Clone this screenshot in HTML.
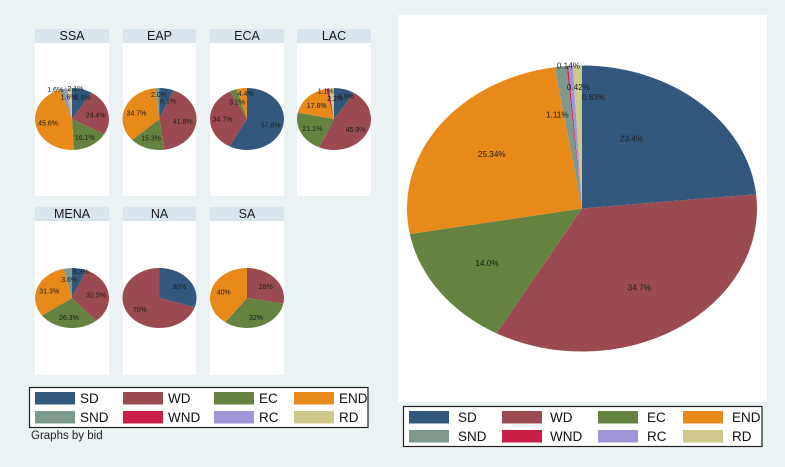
<!DOCTYPE html>
<html>
<head>
<meta charset="utf-8">
<title>Pie charts by bid</title>
<style>
  html, body { margin: 0; padding: 0; background: #eaf2f3; overflow: hidden; }
  svg { display: block; font-family: "Liberation Sans", Arial, sans-serif; filter: blur(0.35px); }
</style>
</head>
<body>
<svg id="chart" xmlns="http://www.w3.org/2000/svg" width="785" height="467" viewBox="0 0 785 467">
  <rect x="0" y="0" width="785" height="467" fill="#eaf2f3"/>
  <rect x="398" y="15" width="369" height="387" fill="#ffffff"/>
  <text x="31" y="439" font-size="11.5" fill="#222222">Graphs by bid</text>
</svg>
<script>
// ---- Data ----
const categories = ['SD', 'WD', 'EC', 'END', 'SND', 'WND', 'RC', 'RD'];
const panelNames = ['SSA', 'EAP', 'ECA', 'LAC', 'MENA', 'NA', 'SA'];

const ssaValues  = [8.8, 24.4, 16.1, 45.6, 1.6, 0, 1.6, 2.1];
const eapValues  = [6.1, 41.8, 15.3, 34.7, 2.0, 0, 0, 0];
const ecaValues  = [57.8, 34.7, 3.1, 4.4, 0, 0, 0, 0];
const lacValues  = [8.9, 45.9, 21.1, 17.8, 0, 1.1, 0, 2.2];
const menaValues = [6.3, 32.5, 26.3, 31.3, 3.6, 0, 0, 0];
const naValues   = [30, 70, 0, 0, 0, 0, 0, 0];
const saValues   = [0, 28, 32, 40, 0, 0, 0, 0];
const overallValues = [23.4, 34.7, 14.0, 25.34, 1.11, 0.14, 0.42, 0.83];

const ssaLabels  = ['8.8%', '24.4%', '16.1%', '45.6%', '1.6%', '', '1.6%', '2.1%'];
const eapLabels  = ['6.1%', '41.8%', '15.3%', '34.7%', '2.0%', '', '', ''];
const ecaLabels  = ['57.8%', '34.7%', '3.1%', '4.4%', '', '', '', ''];
const lacLabels  = ['8.9%', '45.9%', '21.1%', '17.8%', '', '1.1%', '', '2.2%'];
const menaLabels = ['6.3%', '32.5%', '26.3%', '31.3%', '3.6%', '', '', ''];
const naLabels   = ['30%', '70%', '', '', '', '', '', ''];
const saLabels   = ['', '28%', '32%', '40%', '', '', '', ''];
const overallLabels = ['23.4%', '34.7%', '14.0%', '25.34%', '1.11%', '0.14%', '0.42%', '0.83%'];

// ---- Styling / layout (not data) ----
const sliceColors = ['#32587e', '#9a4a50', '#658240', '#e88a1a', '#7f9a8d', '#c81e48', '#9f96d8', '#cfc88b'];
const svg = document.getElementById('chart');
const NS = 'http://www.w3.org/2000/svg';

function make(tag, attrs, parent) {
  const el = document.createElementNS(NS, tag);
  for (const k in attrs) el.setAttribute(k, attrs[k]);
  (parent || svg).appendChild(el);
  return el;
}

// Axis-like function: fraction of the pie -> point on its ellipse
function piePoint(pie, frac, scale) {
  const a = frac * 2 * Math.PI;
  return [pie.cx + scale * pie.rx * Math.sin(a), pie.cy - scale * pie.ry * Math.cos(a)];
}

function drawPie(name, pie, values, labels, nudges, fontSize) {
  const total = values.reduce((s, v) => s + v, 0);
  const group = make('g', {});
  
  
  let cum = 0;
  const labelJobs = [];
  values.forEach((v, i) => {
    if (v <= 0) return;
    const start = cum / total;
    const end = (cum + v) / total;
    cum += v;
    const p0 = piePoint(pie, start, 1);
    const p1 = piePoint(pie, end, 1);
    const large = end - start > 0.5 ? 1 : 0;
    const d = 'M' + pie.cx + ' ' + pie.cy + ' L' + p0[0] + ' ' + p0[1] +
      ' A' + pie.rx + ' ' + pie.ry + ' 0 ' + large + ' 1 ' + p1[0] + ' ' + p1[1] + ' Z';
    const slice = make('path', { d: d, fill: sliceColors[i] }, group);
    
    
    labelJobs.push({ i: i, mid: (start + end) / 2 });
  });
  labelJobs.forEach(job => {
    if (!labels[job.i]) return;
    const pos = piePoint(pie, job.mid, 0.66);
    const n = nudges[job.i] || [0, 0];
    const t = make('text', {
      x: pos[0] + n[0], y: pos[1] + n[1] + fontSize * 0.35,
      'font-size': fontSize, 'text-anchor': 'middle', fill: '#1c1c1c'
    }, group);
    t.textContent = labels[job.i];
    
    
  });
}

function drawPanel(index, values, labels, nudges) {
  const box = panelBoxes[index];
  const name = panelNames[index].toLowerCase();
  const bg = make('rect', { x: box.x, y: box.y + 14, width: box.w, height: box.h, fill: '#ffffff' });
  
  
  const band = make('rect', { x: box.x, y: box.y, width: box.w, height: 14, fill: '#d9e5ec' });
  
  
  const title = make('text', {
    x: box.x + box.w / 2, y: box.y + 11.2, 'font-size': 12.5, 'text-anchor': 'middle', fill: '#1a1a1a'
  });
  title.textContent = panelNames[index];
  
  
  drawPie(name, { cx: box.x + box.w / 2, cy: box.cy, rx: 37, ry: box.ry }, values, labels, nudges, 7);
}

function drawLegend(name, layout) {
  const group = make('g', {});
  
  
  const frame = make('rect', {
    x: layout.x, y: layout.y, width: layout.w, height: layout.h,
    fill: '#ffffff', stroke: '#222222', 'stroke-width': 1.2
  }, group);
  
  
  categories.forEach((cat, i) => {
    const col = i % 4;
    const row = Math.floor(i / 4);
    const sw = make('rect', {
      x: layout.swatchX[col], y: layout.rowY[row], width: 40, height: 12.5, fill: sliceColors[i]
    }, group);
    
    
    const t = make('text', {
      x: layout.textX[col], y: layout.rowY[row] + 11, 'font-size': 13.5, fill: '#111111'
    }, group);
    t.textContent = cat;
    
    
  });
}

const panelBoxes = [
  { x: 35,  y: 29,  w: 74, h: 153, cy: 119, ry: 31 },
  { x: 123, y: 29,  w: 73, h: 153, cy: 119, ry: 31 },
  { x: 210, y: 29,  w: 74, h: 153, cy: 119, ry: 31 },
  { x: 297, y: 29,  w: 74, h: 153, cy: 119, ry: 31 },
  { x: 35,  y: 207, w: 74, h: 154, cy: 298, ry: 30 },
  { x: 123, y: 207, w: 73, h: 154, cy: 298, ry: 30 },
  { x: 210, y: 207, w: 74, h: 154, cy: 298, ry: 30 }
];

// Label placement tweaks, by slice, relative to the computed anchor
const ssaNudges  = [[4,-2],[0,1],[0,1],[0,0],[-10,-10],[0,0],[1,-2],[5,-10]];
const eapNudges  = [[4,2],[-1,0],[0,0],[0,1],[1,-4]];
const ecaNudges  = [[0,1],[0,0],[-1,2],[2,-5]];
const lacNudges  = [[5,-3],[0,1],[0,0],[0,1],[0,0],[-4,-8],[0,0],[3,0]];
const menaNudges = [[4,-7],[0,0],[0,0],[0,0],[0,1]];
const naNudges   = [];
const saNudges   = [[0,0],[0,1],[0,1],[0,0]];
const overallNudges = [[-28,0],[-6,0],[-1,0],[4,0],[-10.6,0],[-4,-49],[4,-27],[14.5,-17]];

drawPanel(0, ssaValues, ssaLabels, ssaNudges);
drawPanel(1, eapValues, eapLabels, eapNudges);
drawPanel(2, ecaValues, ecaLabels, ecaNudges);
drawPanel(3, lacValues, lacLabels, lacNudges);
drawPanel(4, menaValues, menaLabels, menaNudges);
drawPanel(5, naValues, naLabels, naNudges);
drawPanel(6, saValues, saLabels, saNudges);

drawPie('overall', { cx: 582, cy: 208.5, rx: 175, ry: 143 }, overallValues, overallLabels, overallNudges, 8.2);

drawLegend('panel-legend', {
  x: 29.5, y: 387.5, w: 338.5, h: 40,
  swatchX: [35, 123, 214, 294],
  textX: [80, 168, 259, 339],
  rowY: [392, 411]
});
drawLegend('overall-legend', {
  x: 403.5, y: 406.5, w: 358.5, h: 40,
  swatchX: [409, 502, 598, 683],
  textX: [458, 550, 647, 732],
  rowY: [411, 430]
});
</script>
</body>
</html>
